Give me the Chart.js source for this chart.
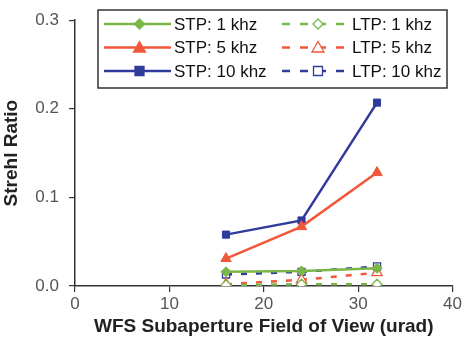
<!DOCTYPE html>
<html>
<head>
<meta charset="utf-8">
<script src="https://cdn.jsdelivr.net/npm/chart.js@4"></script>
<style>
  html, body { margin: 0; padding: 0; background: #fff; }
  #wrap { width: 464px; height: 340px; }
</style>
</head>
<body>
<div id="wrap"><canvas id="myChart" width="464" height="340"></canvas></div>
<script>
// field of view (urad)
var fov = [16, 24, 32];
// Strehl ratio, short-term (STP) and long-term (LTP)
var stp1 = [0.016, 0.017, 0.020];
var stp5 = [0.031, 0.067, 0.128];
var stp10 = [0.058, 0.074, 0.207];
var ltp1 = [0.001, 0.002, 0.002];
var ltp5 = [0.002, 0.007, 0.015];
var ltp10 = [0.013, 0.016, 0.022];
var xTicks = [0, 10, 20, 30, 40];
var yTicks = [0.0, 0.1, 0.2, 0.3];

var green = '#7ab648';
var red = '#f2573a';
var blue = '#2f3c9c';

function pts(vals) {
    var out = [];
    for (var i = 0; i < fov.length; i++) out.push({x: fov[i], y: vals[i]});
    return out;
}

function mkSet(label, vals, color, style, open) {
    return {
        label: label,
        data: pts(vals),
        borderColor: color,
        backgroundColor: open ? '#ffffff' : color,
        pointBackgroundColor: open ? '#ffffff' : color,
        pointBorderColor: color,
        pointStyle: style,
        pointRadius: style == 'triangle' ? 6 : 5,
        pointBorderWidth: open ? 1.3 : 1,
        borderWidth: 2.5,
        borderDash: open ? [6, 9] : [],
        tension: 0,
        fill: false
    };
}

var sets = [
    {label: 'STP: 1 khz', vals: stp1, color: green, style: 'rectRot', open: false},
    {label: 'LTP: 1 khz', vals: ltp1, color: green, style: 'rectRot', open: true},
    {label: 'STP: 5 khz', vals: stp5, color: red, style: 'triangle', open: false},
    {label: 'LTP: 5 khz', vals: ltp5, color: red, style: 'triangle', open: true},
    {label: 'STP: 10 khz', vals: stp10, color: blue, style: 'rect', open: false},
    {label: 'LTP: 10 khz', vals: ltp10, color: blue, style: 'rect', open: true}
];

// marker drawing for the legend box
function marker(ctx, s, x, y) {
    ctx.save();
    ctx.setLineDash([]);
    ctx.fillStyle = s.open ? '#ffffff' : s.color;
    ctx.strokeStyle = s.color;
    ctx.lineWidth = 1.3;
    ctx.beginPath();
    if (s.style == 'rect') {
        ctx.rect(x - 4.5, y - 4.5, 9, 9);
    } else if (s.style == 'triangle') {
        ctx.moveTo(x, y - 6);
        ctx.lineTo(x + 6, y + 4.5);
        ctx.lineTo(x - 6, y + 4.5);
        ctx.closePath();
    } else {
        ctx.moveTo(x, y - 5);
        ctx.lineTo(x + 5, y);
        ctx.lineTo(x, y + 5);
        ctx.lineTo(x - 5, y);
        ctx.closePath();
    }
    ctx.fill();
    ctx.stroke();
    ctx.restore();
}

var boxLegend = {
    id: 'boxLegend',
    afterDraw: function(chart) {
        var ctx = chart.ctx;
        ctx.save();
        ctx.fillStyle = '#ffffff';
        ctx.fillRect(98, 10, 349, 78);
        ctx.strokeStyle = '#333';
        ctx.lineWidth = 1.5;
        ctx.strokeRect(98, 10, 349, 78);
        ctx.font = '17px "Liberation Sans", Arial, sans-serif';
        ctx.textBaseline = 'middle';
        for (var i = 0; i < sets.length; i++) {
            var s = sets[i];
            var row = Math.floor(i / 2);
            var col = i % 2;
            var y = 24 + row * 23.5;
            var x0 = col == 0 ? 104 : 282;
            var x1 = col == 0 ? 171 : 350;
            ctx.strokeStyle = s.color;
            ctx.lineWidth = 2.5;
            ctx.setLineDash(s.open ? [8, 10] : []);
            ctx.beginPath();
            ctx.moveTo(x0, y);
            ctx.lineTo(x1, y);
            ctx.stroke();
            ctx.setLineDash([]);
            marker(ctx, s, (x0 + x1) / 2 + 2, y);
            ctx.fillStyle = '#111';
            ctx.fillText(s.label, col == 0 ? 174 : 352, y + 1);
        }
        ctx.restore();
    }
};

var ctx = document.getElementById('myChart').getContext('2d');
var chart = new Chart(ctx, {
    type: 'line',
    data: {
        datasets: sets.map(function(s) { return mkSet(s.label, s.vals, s.color, s.style, s.open); })
    },
    options: {
        responsive: false,
        animation: false,
        layout: {padding: {top: 17, right: 0, left: 0, bottom: 0}},
        plugins: {
            legend: {display: false},
            tooltip: {enabled: false}
        },
        scales: {
            x: {
                type: 'linear',
                min: xTicks[0],
                max: xTicks[xTicks.length - 1],
                afterBuildTicks: function(scale) {
                    scale.ticks = xTicks.map(function(v) { return {value: v}; });
                },
                afterFit: function(scale) { scale.height = 54; },
                grid: {display: true, drawOnChartArea: false, tickLength: 6, color: '#333', lineWidth: 1.2},
                border: {color: '#333', width: 1.5},
                ticks: {
                    color: '#555',
                    font: {family: '"Liberation Sans", Arial, sans-serif', size: 17},
                    padding: 2
                },
                title: {
                    display: true,
                    text: 'WFS Subaperture Field of View (urad)',
                    color: '#222',
                    font: {family: '"Liberation Sans", Arial, sans-serif', size: 19, weight: 'bold'},
                    padding: {top: 0, bottom: 2}
                }
            },
            y: {
                min: yTicks[0],
                max: yTicks[yTicks.length - 1],
                afterBuildTicks: function(scale) {
                    scale.ticks = yTicks.map(function(v) { return {value: v}; });
                },
                afterFit: function(scale) { scale.width = 75; },
                grid: {display: true, drawOnChartArea: false, tickLength: 6, color: '#333', lineWidth: 1.2},
                border: {color: '#333', width: 1.5},
                ticks: {
                    color: '#555',
                    font: {family: '"Liberation Sans", Arial, sans-serif', size: 17},
                    padding: 10,
                    callback: function(v) { return Number(v).toFixed(1); }
                },
                title: {
                    display: true,
                    text: 'Strehl Ratio',
                    color: '#222',
                    font: {family: '"Liberation Sans", Arial, sans-serif', size: 19, weight: 'bold'},
                    padding: {top: 0, bottom: 0}
                }
            }
        }
    },
    plugins: [boxLegend]
});
</script>
</body>
</html>
